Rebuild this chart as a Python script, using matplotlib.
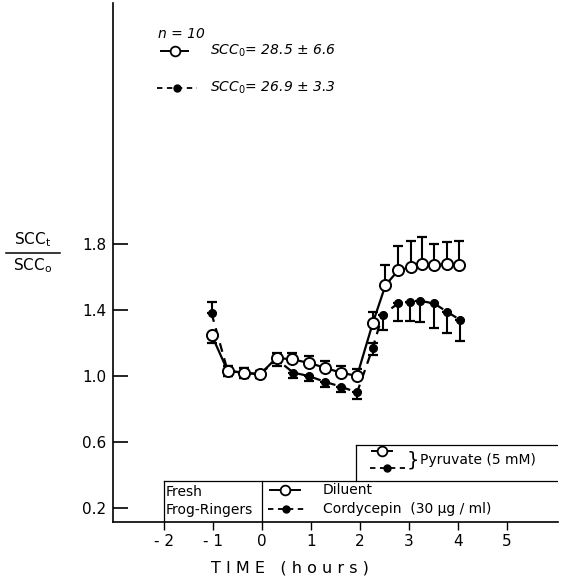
import matplotlib
matplotlib.use('Agg')
import matplotlib.pyplot as plt
from matplotlib.lines import Line2D

# Diluent (open circles)
t_dil = [-1.03, -0.70, -0.37, -0.04, 0.30, 0.62, 0.95, 1.28, 1.61, 1.94,
         2.26, 2.52, 2.78, 3.05, 3.26, 3.51, 3.78, 4.03]
y_dil = [1.25, 1.03, 1.02, 1.01, 1.11, 1.10, 1.08, 1.05, 1.02, 1.00,
         1.32, 1.55, 1.64, 1.66, 1.68, 1.67, 1.68, 1.67]
lo_dil = [0.05, 0.03, 0.03, 0.02, 0.03, 0, 0, 0, 0, 0,
          0, 0, 0, 0, 0, 0, 0, 0]
hi_dil = [0, 0.03, 0.03, 0.02, 0.03, 0.04, 0.04, 0.04, 0.04, 0.04,
          0.07, 0.12, 0.15, 0.16, 0.16, 0.13, 0.13, 0.15]

# Cordycepin (filled circles)
t_cor = [-1.03, -0.70, -0.37, -0.04, 0.30, 0.64, 0.95, 1.28, 1.61, 1.94,
         2.26, 2.46, 2.78, 3.02, 3.22, 3.51, 3.77, 4.04]
y_cor = [1.38, 1.03, 1.02, 1.01, 1.10, 1.02, 1.00, 0.965, 0.935, 0.90,
         1.17, 1.37, 1.44, 1.45, 1.455, 1.44, 1.39, 1.34]
lo_cor = [0, 0.03, 0.03, 0.02, 0.04, 0.03, 0.03, 0.03, 0.03, 0.04,
          0.04, 0.09, 0.11, 0.12, 0.13, 0.15, 0.13, 0.13]
hi_cor = [0.07, 0.03, 0.03, 0.02, 0.02, 0, 0, 0, 0, 0,
          0.03, 0, 0, 0, 0, 0, 0, 0]

xticks = [-2, -1, 0, 1, 2, 3, 4, 5]
yticks = [0.2, 0.6, 1.0, 1.4, 1.8]
ytick_labels = ['0.2', '0.6', '1.0', '1.4', '1.8']

W, H = 561, 578
fig = plt.figure(figsize=(W / 100, H / 100), dpi=100)
ax = fig.add_axes([113 / W, 56 / H, 445 / W, 519 / H])

ax.errorbar(t_cor, y_cor, yerr=[lo_cor, hi_cor], fmt='o', color='black',
            ms=5.5, elinewidth=1.5, capsize=3.5, capthick=1.6, zorder=2)
ax.plot(t_cor, y_cor, color='black', ls=(0, (4, 3)), lw=1.6, zorder=2)
ax.errorbar(t_dil, y_dil, yerr=[lo_dil, hi_dil], fmt='none', ecolor='black',
            elinewidth=1.5, capsize=3.5, capthick=1.6, zorder=3)
ax.plot(t_dil, y_dil, color='black', lw=1.6, marker='o', ms=8,
        mfc='white', mec='black', mew=1.4, zorder=4)

ax.set_xlim(-3.04, 6.04)
ax.set_ylim(0.115, 3.26)
ax.spines['top'].set_visible(False)
ax.spines['right'].set_visible(False)
ax.spines['left'].set_linewidth(1.2)
ax.spines['bottom'].set_linewidth(1.2)
ax.set_xticks(xticks)
ax.set_xticklabels([str(v).replace('-', '- ') for v in xticks])
ax.set_yticks(yticks)
ax.set_yticklabels(ytick_labels)
ax.tick_params(axis='x', direction='out', length=6, width=1, pad=3, labelsize=11)
ax.tick_params(axis='y', direction='in', length=11, width=1.2, pad=5, labelsize=11)

# top legend
leg_style = dict(fontsize=10, style='italic', va='center', ha='left')
ax.text(-2.12, 3.07, 'n = 10', **leg_style)
ax.plot([-2.06, -1.51], [2.97, 2.97], color='black', lw=1.4)
ax.plot([-1.78], [2.97], marker='o', ms=7, mfc='white', mec='black', mew=1.3)
ax.text(-1.06, 2.97, r'SCC$_0$= 28.5 $\pm$ 6.6', **leg_style)
ax.plot([-2.14, -1.33], [2.745, 2.745], color='black', lw=1.3, ls=(0, (3, 2.5)))
ax.plot([-1.74], [2.745], marker='o', ms=5, color='black')
ax.text(-1.06, 2.745, r'SCC$_0$= 26.9 $\pm$ 3.3', **leg_style)

# condition boxes
box_top = 0.364
pyr_top = 0.582
pyr_left = 1.92
lw_box = 0.9
ax.plot([-2, -2], [0.115, box_top], color='black', lw=lw_box)
ax.plot([0, 0], [0.115, box_top], color='black', lw=lw_box)
ax.plot([-2, 6.04], [box_top, box_top], color='black', lw=lw_box)
ax.plot([pyr_left, pyr_left], [box_top, pyr_top], color='black', lw=lw_box)
ax.plot([pyr_left, 6.04], [pyr_top, pyr_top], color='black', lw=lw_box)

box_style = dict(fontsize=10, va='center', ha='left')
ax.text(-1.96, 0.297, 'Fresh', **box_style)
ax.text(-1.96, 0.188, 'Frog-Ringers', **box_style)

ax.plot([0.16, 0.78], [0.31, 0.31], color='black', lw=1.4)
ax.plot([0.47], [0.31], marker='o', ms=7, mfc='white', mec='black', mew=1.3)
ax.text(1.245, 0.31, 'Diluent', **box_style)
ax.plot([0.12, 0.88], [0.194, 0.194], color='black', lw=1.3, ls=(0, (3, 2.5)))
ax.plot([0.5], [0.194], marker='o', ms=5, color='black')
ax.text(1.245, 0.194, 'Cordycepin  (30 \u00b5g / ml)', **box_style)

ax.plot([2.24, 2.65], [0.545, 0.545], color='black', lw=1.4)
ax.plot([2.45], [0.545], marker='o', ms=7, mfc='white', mec='black', mew=1.3)
ax.plot([2.20, 2.92], [0.442, 0.442], color='black', lw=1.3, ls=(0, (3, 2.5)))
ax.plot([2.56], [0.442], marker='o', ms=5, color='black')
ax.text(2.95, 0.493, '}', fontsize=14, va='center', ha='left')
ax.text(3.22, 0.493, 'Pyruvate (5 mM)', **box_style)

# axis labels
fig.text(290 / W, 1 - 568 / H, 'T I M E   ( h o u r s )', fontsize=11.5,
         ha='center', va='center')
fig.text(33 / W, 1 - 240 / H, r'SCC$_\mathregular{t}$', fontsize=11,
         ha='center', va='center')
fig.add_artist(Line2D([6 / W, 60 / W], [1 - 253 / H, 1 - 253 / H],
                      color='black', lw=1.1))
fig.text(33 / W, 1 - 266 / H, r'SCC$_\mathregular{o}$', fontsize=11,
         ha='center', va='center')

fig.savefig('out.png', dpi=100)
